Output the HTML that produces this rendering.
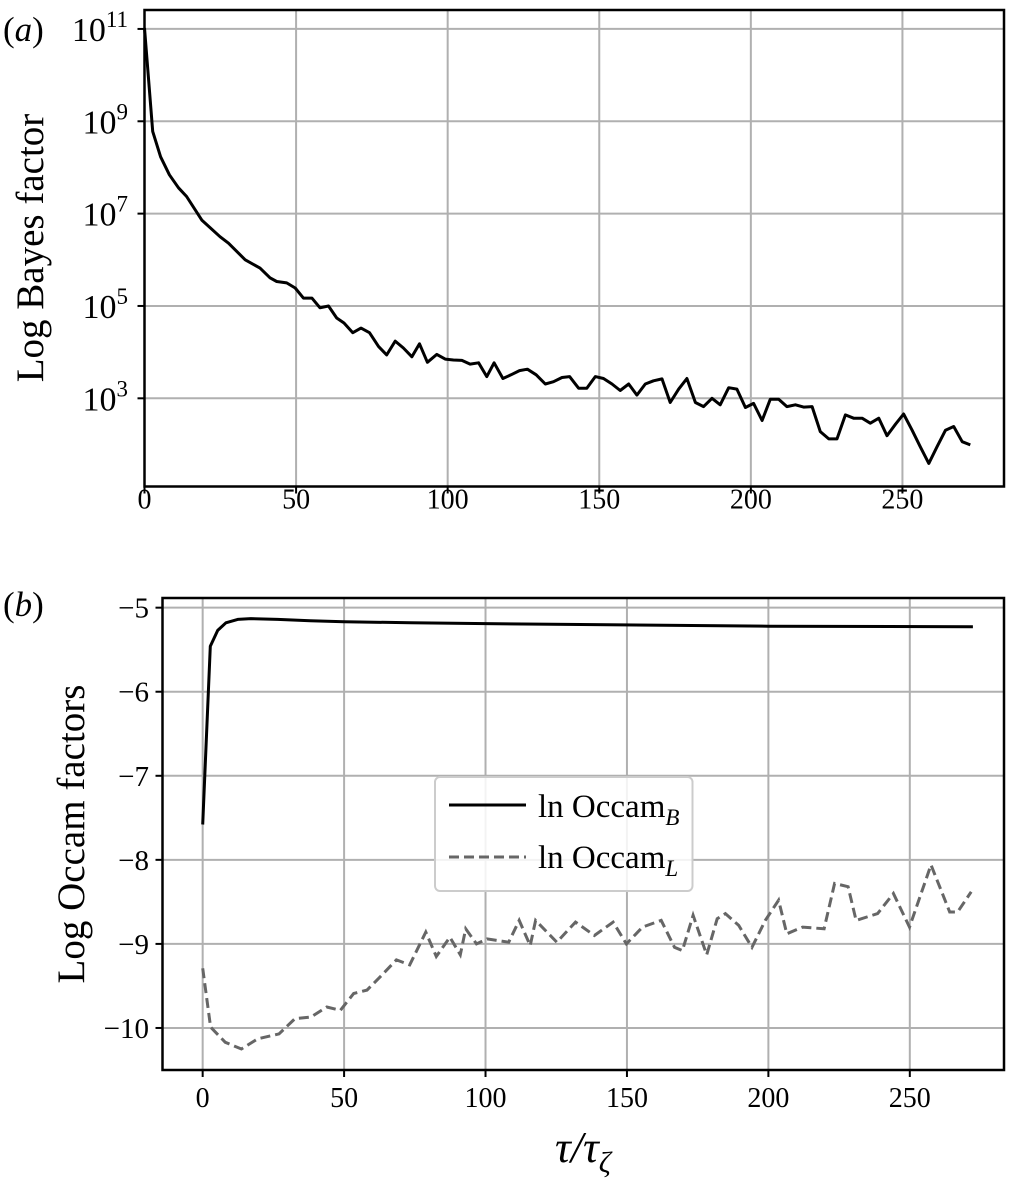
<!DOCTYPE html>
<html><head><meta charset="utf-8"><style>
html,body{margin:0;padding:0;background:#fff;}
svg{display:block;font-family:"Liberation Serif","DejaVu Serif",serif;}
</style></head><body>
<svg id="fig" width="1013" height="1187" viewBox="0 0 1013 1187" xmlns="http://www.w3.org/2000/svg">
<g id="pa"></g>
<g id="pb"></g>
</svg>
<script>
// ---- Panel (a) data ----
const tauA = [0,2.7,5.3,8.2,11.2,13.9,18.9,24.9,27.7,33.2,38.1,41.4,43.6,46.9,49.7,52.4,55.2,57.9,60.7,63.4,65.8,68.7,71.4,74.2,77.2,79.9,82.7,85.4,88.2,90.7,93.3,96.4,99.2,101.9,104.7,107.4,110.2,112.9,115.3,118.2,120.9,123.7,126.3,129.2,132.2,134.9,137.7,140.2,143.2,145.9,148.7,151.4,154.2,156.9,159.7,162.4,165.2,167.9,170.7,173.4,176.2,178.9,181.7,184.4,187.2,189.9,192.7,195.4,198.2,200.9,203.7,206.4,209.2,211.9,214.7,217.4,220.2,222.9,225.7,228.4,231.2,233.9,236.7,239.4,242.2,244.9,247.7,250.4,253.2,255.9,258.7,261.4,264.2,266.9,269.7,272.4];
const log10Bayes = [11.02,8.78,8.23,7.84,7.56,7.37,6.86,6.50,6.36,6.0,5.82,5.61,5.53,5.50,5.39,5.17,5.17,4.96,5.0,4.74,4.63,4.42,4.52,4.42,4.12,3.94,4.24,4.09,3.90,4.18,3.78,3.95,3.85,3.83,3.82,3.74,3.77,3.47,3.77,3.43,3.51,3.60,3.63,3.51,3.31,3.36,3.45,3.47,3.22,3.22,3.47,3.43,3.31,3.17,3.31,3.07,3.31,3.38,3.42,2.91,3.20,3.43,2.91,2.82,3.0,2.86,3.23,3.20,2.80,2.89,2.52,2.98,2.98,2.82,2.86,2.81,2.82,2.28,2.12,2.12,2.64,2.57,2.57,2.46,2.57,2.19,2.44,2.66,2.31,1.95,1.59,1.95,2.31,2.39,2.06,1.99];
const xTicksA = [0,50,100,150,200,250];
const yTickExpA = [3,5,7,9,11];

// ---- Panel (b) data ----
const tauB1 = [0,2.7,5.3,8.2,12.4,17,26.5,38,50,73.5,100,133.5,200,272.3];
const occamB = [-7.58,-5.46,-5.27,-5.18,-5.14,-5.13,-5.14,-5.155,-5.167,-5.18,-5.19,-5.20,-5.22,-5.226];
const tauB2 = [0,2.8,8.0,13.7,19.4,27,32.6,38.3,43.9,48.7,53.4,58.1,62.8,68.5,73.2,78.9,82.6,87.4,91.1,93,96.8,100.6,108.2,111.9,115.8,117.7,125.2,131.8,138.5,145.1,149.8,155.5,162.1,166.8,169.6,173.4,178.2,181.9,184.8,189.5,194.2,198.9,203.6,206.5,212.1,219.7,223.4,228.2,231,238.6,244.2,249.9,257.5,264.1,266.9,271.7];
const occamL = [-9.29,-9.99,-10.17,-10.25,-10.13,-10.07,-9.89,-9.87,-9.75,-9.79,-9.59,-9.55,-9.39,-9.19,-9.25,-8.86,-9.15,-8.92,-9.13,-8.82,-9.0,-8.94,-8.98,-8.72,-9.02,-8.72,-8.98,-8.74,-8.90,-8.74,-9.0,-8.80,-8.72,-9.04,-9.08,-8.66,-9.13,-8.70,-8.64,-8.78,-9.04,-8.72,-8.48,-8.88,-8.80,-8.82,-8.28,-8.32,-8.72,-8.64,-8.40,-8.80,-8.06,-8.62,-8.62,-8.38];
const xTicksB = [0,50,100,150,200,250];
const yTicksB = [-10,-9,-8,-7,-6,-5];

const NS="http://www.w3.org/2000/svg";
function mk(parent,tag,attrs,text){const e=document.createElementNS(NS,tag);for(const k in attrs)e.setAttribute(k,attrs[k]);if(text!==undefined)e.textContent=text;parent.appendChild(e);return e;}

// ---- Panel A ----
const A={L:144.5,T:10,R:1004,B:486.5,x0:0,x1:283.5,y0:1.09,y1:11.41};
const xA=t=>A.L+(t-A.x0)/(A.x1-A.x0)*(A.R-A.L);
const yA=v=>A.B-(v-A.y0)/(A.y1-A.y0)*(A.B-A.T);
const pa=document.getElementById('pa');
const gridA=mk(pa,'g',{});


xTicksA.forEach(t=>{
  const l=mk(gridA,'line',{x1:xA(t),x2:xA(t),y1:A.T,y2:A.B,stroke:'#b0b0b0','stroke-width':2});
  
  
  const tk=mk(pa,'line',{x1:xA(t),x2:xA(t),y1:A.B,y2:A.B+7,stroke:'#000','stroke-width':2});
  
  
  const tx=mk(pa,'text',{x:xA(t),y:A.B+22,'font-size':28,'text-anchor':'middle'},String(t));
  
  
});
yTickExpA.forEach(e=>{
  const l=mk(gridA,'line',{x1:A.L,x2:A.R,y1:yA(e),y2:yA(e),stroke:'#b0b0b0','stroke-width':2});
  
  
  const tk=mk(pa,'line',{x1:A.L-7,x2:A.L,y1:yA(e),y2:yA(e),stroke:'#000','stroke-width':2});
  
  
  const tx=mk(pa,'text',{x:128,y:yA(e)+12,'font-size':34,'text-anchor':'end'});
  
  
  mk(tx,'tspan',{},'10');
  mk(tx,'tspan',{'font-size':23,dy:-14},String(e));
});
const ptsA=tauA.map((t,i)=>xA(t).toFixed(1)+','+yA(log10Bayes[i]).toFixed(1)).join(' ');
const lnA=mk(pa,'polyline',{points:ptsA,fill:'none',stroke:'#000','stroke-width':3,'stroke-linejoin':'round'});


const frA=mk(pa,'rect',{x:A.L,y:A.T,width:A.R-A.L,height:A.B-A.T,fill:'none',stroke:'#000','stroke-width':2.5});


const ylA=mk(pa,'text',{x:0,y:0,'font-size':39,'text-anchor':'middle',transform:'translate(43,248) rotate(-90)'},'Log Bayes factor');


const plA=mk(pa,'text',{x:3,y:41,'font-size':35});


mk(plA,'tspan',{},'(');mk(plA,'tspan',{'font-style':'italic'},'a');mk(plA,'tspan',{},')');

// ---- Panel B ----
const B={L:162.5,T:598,R:1004,B:1070,x0:-14.2,x1:283.3,y0:-10.5,y1:-4.885};
const xB=t=>B.L+(t-B.x0)/(B.x1-B.x0)*(B.R-B.L);
const yB=v=>B.B-(v-B.y0)/(B.y1-B.y0)*(B.B-B.T);
const pb=document.getElementById('pb');
const gridB=mk(pb,'g',{});


xTicksB.forEach(t=>{
  const l=mk(gridB,'line',{x1:xB(t),x2:xB(t),y1:B.T,y2:B.B,stroke:'#b0b0b0','stroke-width':2});
  
  
  const tk=mk(pb,'line',{x1:xB(t),x2:xB(t),y1:B.B,y2:B.B+7,stroke:'#000','stroke-width':2});
  
  
  const tx=mk(pb,'text',{x:xB(t),y:B.B+37,'font-size':28,'text-anchor':'middle'},String(t));
  
  
});
yTicksB.forEach(v=>{
  const l=mk(gridB,'line',{x1:B.L,x2:B.R,y1:yB(v),y2:yB(v),stroke:'#b0b0b0','stroke-width':2});
  
  
  const tk=mk(pb,'line',{x1:B.L-7,x2:B.L,y1:yB(v),y2:yB(v),stroke:'#000','stroke-width':2});
  
  
  const tx=mk(pb,'text',{x:149,y:yB(v)+10,'font-size':29,'text-anchor':'end'},'\u2212'+Math.abs(v));
  
  
});
const ptsB1=tauB1.map((t,i)=>xB(t).toFixed(1)+','+yB(occamB[i]).toFixed(1)).join(' ');
const lnB1=mk(pb,'polyline',{points:ptsB1,fill:'none',stroke:'#000','stroke-width':3,'stroke-linejoin':'round'});


const ptsB2=tauB2.map((t,i)=>xB(t).toFixed(1)+','+yB(occamL[i]).toFixed(1)).join(' ');
const lnB2=mk(pb,'polyline',{points:ptsB2,fill:'none',stroke:'#666','stroke-width':3,'stroke-dasharray':'10,5'});


const frB=mk(pb,'rect',{x:B.L,y:B.T,width:B.R-B.L,height:B.B-B.T,fill:'none',stroke:'#000','stroke-width':2.5});



// legend
const lg=mk(pb,'g',{});


const lgBox=mk(lg,'rect',{x:435,y:777,width:257.5,height:114,rx:5,fill:'#fff','fill-opacity':0.85,stroke:'#ccc','stroke-width':2});


const le1=mk(lg,'line',{x1:449,x2:526,y1:805,y2:805,stroke:'#000','stroke-width':3});


const lt1=mk(lg,'text',{x:538,y:817,'font-size':33});


mk(lt1,'tspan',{},'ln Occam');mk(lt1,'tspan',{'font-size':23,'font-style':'italic',dy:8},'B');
const le2=mk(lg,'line',{x1:449,x2:526,y1:857,y2:857,stroke:'#666','stroke-width':3,'stroke-dasharray':'10,5'});


const lt2=mk(lg,'text',{x:538,y:868,'font-size':33});


mk(lt2,'tspan',{},'ln Occam');mk(lt2,'tspan',{'font-size':23,'font-style':'italic',dy:8},'L');

const ylB=mk(pb,'text',{x:0,y:0,'font-size':39,'text-anchor':'middle',transform:'translate(84,834) rotate(-90)'},'Log Occam factors');


const xlB=mk(pb,'text',{x:583,y:1162,'font-size':44,'text-anchor':'middle','font-style':'italic'});


mk(xlB,'tspan',{},'\u03c4/\u03c4');mk(xlB,'tspan',{'font-size':30,dy:10},'\u03b6');
const plB=mk(pb,'text',{x:3,y:616,'font-size':35});


mk(plB,'tspan',{},'(');mk(plB,'tspan',{'font-style':'italic'},'b');mk(plB,'tspan',{},')');
</script>
</body></html>
